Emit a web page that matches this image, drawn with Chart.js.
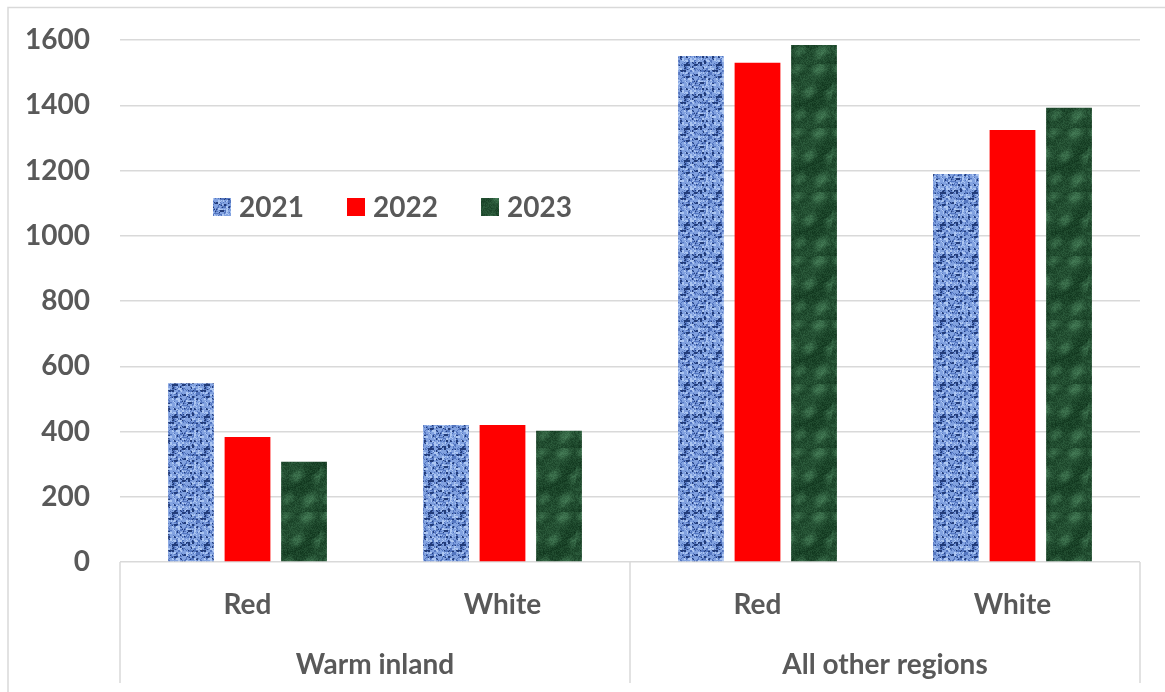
<!DOCTYPE html>
<html>
<head>
<meta charset="utf-8">
<script src="https://cdn.jsdelivr.net/npm/chart.js@4"></script>
<style>
  body { margin: 0; background: #fff; }
  #wrap { width: 1165px; height: 692px; }
</style>
</head>
<body>
<div id="wrap"><canvas id="wineChart" width="1165" height="692"></canvas></div>
<script>
// data
const categories = ['Red', 'White', 'Red', 'White'];
const groups = ['Warm inland', 'All other regions'];
const years = ['2021', '2022', '2023'];
const v2021 = [548, 420, 1551, 1189];
const v2022 = [383, 420, 1530, 1324];
const v2023 = [307, 402, 1585, 1392];
const yMin = 0, yMax = 1600, yStep = 200;

const textGrey = '#595959';
const lineGrey = '#d9d9d9';
const fontFam = 'Lato, "Open Sans", sans-serif';

// small deterministic hash for the fill textures
function hash(x, y, s) {
  let n = Math.imul(x, 374761393) + Math.imul(y, 668265263) + Math.imul(s, 144665);
  n = Math.imul(n ^ (n >>> 13), 1274126177);
  n = n ^ (n >>> 16);
  return (n >>> 0) / 4294967295;
}

function makeTile(w, h, pix) {
  const c = document.createElement('canvas');
  c.width = w; c.height = h;
  const g = c.getContext('2d');
  const img = g.createImageData(w, h);
  for (let y = 0; y < h; y++) {
    for (let x = 0; x < w; x++) {
      const [r, gg, b] = pix(x, y);
      const i = (y * w + x) * 4;
      img.data[i] = r; img.data[i + 1] = gg; img.data[i + 2] = b; img.data[i + 3] = 255;
    }
  }
  g.putImageData(img, 0, 0);
  return c;
}

// blue woven texture (2021)
const blueTile = makeTile(32, 32, (x, y) => {
  const bx = Math.floor(x / 2), by = Math.floor(y / 2);
  let t = hash(bx, by, 1) * 0.6 + hash(x, y, 2) * 0.3;
  if (by % 3 === 0) t -= 0.15;
  if (bx % 4 === 1) t += 0.1;
  if (t < 0.16) return [34, 60, 122];
  if (t < 0.32) return [84, 118, 192];
  if (t < 0.62) return [130, 162, 224];
  return [172, 198, 242];
});

// dark green marble texture (2023)
const greenTile = makeTile(64, 64, (x, y) => {
  const a = Math.sin((x * 0.7 + y) * 0.196) * Math.sin((x - y * 0.5) * 0.147 + 0.7);
  const b = Math.sin((x + y * 1.3) * 0.098 + 2.1);
  let t = 0.16 + Math.max(0, a) * 0.3 + b * 0.06 + hash(x, y, 7) * 0.22;
  t = Math.max(0, Math.min(1, t));
  const lo = [6, 40, 18], hi = [96, 160, 116];
  return [0, 1, 2].map(k => Math.round(lo[k] + (hi[k] - lo[k]) * t));
});

const ctx = document.getElementById('wineChart');
const g2d = ctx.getContext('2d');
const bluePat = g2d.createPattern(blueTile, 'repeat');
const greenPat = g2d.createPattern(greenTile, 'repeat');
const fills = [bluePat, '#ff0000', greenPat];

// separators, group labels, legend and outer frame
const extrasPlugin = {
  id: 'extras',
  afterDraw(chart) {
    const c = chart.ctx;
    const x = chart.scales.x;
    const area = chart.chartArea;
    c.save();
    c.strokeStyle = lineGrey;
    c.lineWidth = 1.5;
    c.strokeRect(8, 7.5, 1200, 720);
    const mid = (x.getPixelForValue(1) + x.getPixelForValue(2)) / 2;
    const bottom = x.top + 121;
    [x.left, mid, x.right].forEach(px => {
      c.beginPath();
      c.moveTo(px, x.top);
      c.lineTo(px, bottom);
      c.stroke();
    });
    c.fillStyle = textGrey;
    c.font = 'bold 28px ' + fontFam;
    c.textAlign = 'center';
    c.textBaseline = 'middle';
    groups.forEach((label, gi) => {
      const cx = (x.getPixelForValue(gi * 2) + x.getPixelForValue(gi * 2 + 1)) / 2;
      c.fillText(label, cx, x.top + 103);
    });
    // legend inside the plot area
    const ly = 207;
    let lx = area.left + 93;
    c.textAlign = 'left';
    years.forEach((yr, i) => {
      c.fillStyle = fills[i];
      c.fillRect(lx, ly - 9, 18, 18);
      c.fillStyle = textGrey;
      c.fillText(yr, lx + 26, ly + 1);
      lx += 134;
    });
    c.restore();
  }
};

new Chart(ctx, {
  type: 'bar',
  data: {
    labels: categories,
    datasets: [
      { label: years[0], data: v2021, backgroundColor: bluePat },
      { label: years[1], data: v2022, backgroundColor: '#ff0000' },
      { label: years[2], data: v2023, backgroundColor: greenPat }
    ]
  },
  options: {
    responsive: false,
    animation: false,
    devicePixelRatio: 1,
    layout: { padding: { top: 40, right: 25, bottom: 0, left: 0 } },
    categoryPercentage: 0.665,
    barPercentage: 0.81,
    plugins: {
      legend: { display: false },
      tooltip: { enabled: false }
    },
    scales: {
      x: {
        grid: { display: false },
        border: { display: false },
        ticks: {
          color: textGrey,
          padding: 18,
          font: { family: fontFam, size: 28, weight: 'bold' }
        },
        afterFit(scale) { scale.height = 130; }
      },
      y: {
        min: yMin,
        max: yMax,
        grid: { color: lineGrey, lineWidth: 1.5, drawTicks: false },
        border: { display: false },
        ticks: {
          stepSize: yStep,
          color: textGrey,
          padding: 30,
          font: { family: fontFam, size: 28, weight: 'bold' },
          callback: v => String(v)
        },
        afterFit(scale) {
          scale.width = 120;
          scale.paddingTop = 0;
          scale.paddingBottom = 0;
        }
      }
    }
  },
  plugins: [extrasPlugin]
});
</script>
</body>
</html>
